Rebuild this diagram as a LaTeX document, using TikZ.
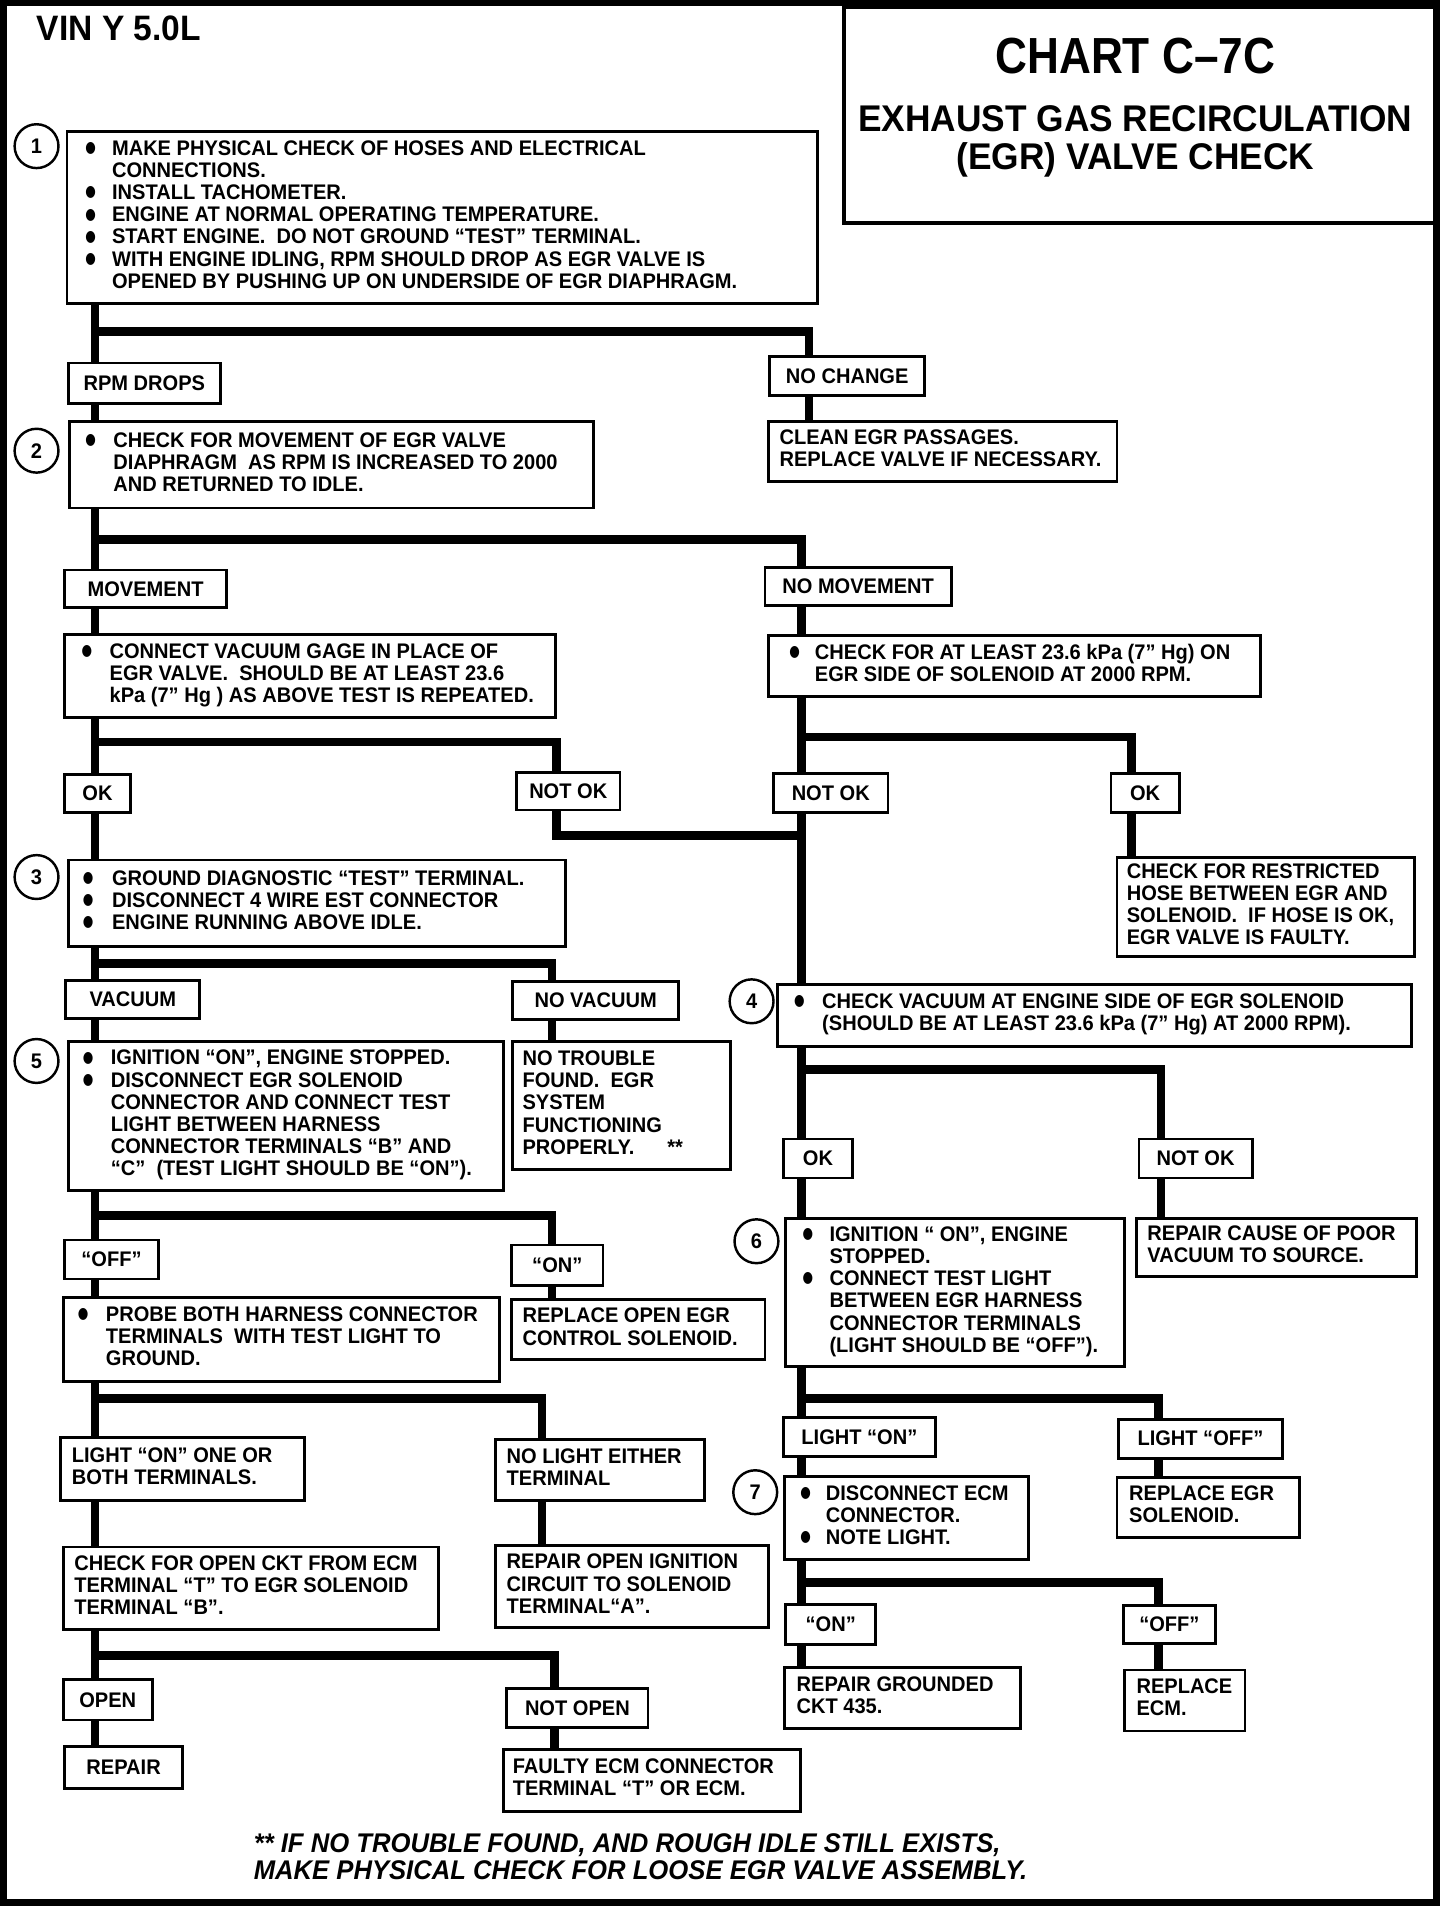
\documentclass[tikz,border=0pt]{standalone}
\usepackage{fontspec}
\usepackage{graphicx}
\setmainfont{Liberation Sans}[FakeStretch=0.95]
\newfontfamily\titlef{Liberation Sans}[FakeStretch=0.87]
\newfontfamily\dejavu{DejaVu Sans}
\usetikzlibrary{fit}
\newlength\upx \setlength\upx{0.6pt}
\newcommand\bodyfont{\fontsize{10.4}{10.9}\selectfont\bfseries}
\newcommand\bt{\raisebox{1.4pt}{\scalebox{0.85}[1.1]{\dejavu\fontsize{7}{7}\selectfont ●}}}
\newcommand\Bul[3]{\hspace*{#1\upx}\begin{tabular}{@{}p{#2\upx}@{}l@{}}#3\end{tabular}}
\newcommand\Tx[2]{\hspace*{#1\upx}\begin{tabular}{@{}l@{}}#2\end{tabular}}
\newcommand\Bx[6]{\pgfmathsetmacro\bxw{(#4-#2)*0.6}\pgfmathsetmacro\bxh{(#5-#3)*0.6}%
  \node[rbox, anchor=north west, minimum width=\bxw pt, minimum height=\bxh pt] (#1) at (#2,#3) {\makebox[\bxw pt][l]{#6}};}
\newcommand\Lb[6]{\Bx{#1}{#2}{#3}{#4}{#5}{\hfill#6\hfill}}
\begin{document}
\begin{tikzpicture}[x=0.6pt,y=-0.6pt,
  every node/.style={inner sep=0pt, font=\bodyfont},
  rbox/.style={draw, line width=1.4pt, fill=white, inner sep=0pt, outer sep=0pt},
  tbox/.style={draw, line width=1.8pt, inner sep=0pt},
  conn/.style={line width=4.2pt},
  numc/.style={circle, draw, line width=1.2pt, minimum size=21.6pt, inner sep=0pt}]
\useasboundingbox (0,0) rectangle (1195,1568);
\draw[line width=3.3pt] (2.7,2) rectangle (1179,1562);
\node[tbox, fit={(693,6)(1179,183)}] (title) {};
\node[anchor=base, font=\titlef\fontsize{25}{25}\selectfont\bfseries] (t1) at (932,60) {CHART C–7C};
\node[anchor=base, font=\fontsize{18.3}{18.3}\selectfont\bfseries] (t2) at (932,108) {EXHAUST GAS RECIRCULATION};
\node[anchor=base, font=\fontsize{18.3}{18.3}\selectfont\bfseries] (t3) at (932,139) {(EGR) VALVE CHECK};
\node[anchor=base west, font=\fontsize{17.4}{17.4}\selectfont\bfseries] (vin) at (30,33) {VIN Y 5.0L};

% boxes
\Bx{b1}{55}{108}{671}{249}{\Bul{15}{22}{%
\bt & MAKE PHYSICAL CHECK OF HOSES AND ELECTRICAL\\
 & CONNECTIONS.\\
\bt & INSTALL TACHOMETER.\\
\bt & ENGINE AT NORMAL OPERATING TEMPERATURE.\\
\bt & START ENGINE.~ DO NOT GROUND “TEST” TERMINAL.\\
\bt & WITH ENGINE IDLING, RPM SHOULD DROP AS EGR VALVE IS\\
 & OPENED BY PUSHING UP ON UNDERSIDE OF EGR DIAPHRAGM.}}
\Lb{rpm}{56}{298}{181}{331}{RPM DROPS}
\Lb{nochg}{632}{293}{759}{325}{NO CHANGE}
\Bx{clean}{631}{346}{917}{395}{\Tx{9}{CLEAN EGR PASSAGES.\\ REPLACE VALVE IF NECESSARY.}}
\Bx{b2}{57}{346}{487}{417}{\Bul{13}{23}{\bt & CHECK FOR MOVEMENT OF EGR VALVE\\ & DIAPHRAGM~ AS RPM IS INCREASED TO 2000\\ & AND RETURNED TO IDLE.}}
\Lb{mov}{53}{468}{186}{499}{MOVEMENT}
\Lb{nomov}{628}{466}{781}{497}{NO MOVEMENT}
\Bx{cvac}{53}{521}{456}{589}{\Bul{14}{23}{\bt & CONNECT VACUUM GAGE IN PLACE OF\\ & EGR VALVE.~ SHOULD BE AT LEAST 23.6\\ & kPa (7” Hg ) AS ABOVE TEST IS REPEATED.}}
\Bx{chk}{631}{522}{1035}{572}{\Bul{17}{21}{\bt & CHECK FOR AT LEAST 23.6 kPa (7” Hg) ON\\ & EGR SIDE OF SOLENOID AT 2000 RPM.}}
\Lb{okL}{53}{636}{107}{667}{OK}
\Lb{notokL}{424}{634}{509}{665}{NOT OK}
\Lb{notokR}{635}{635}{729}{667}{NOT OK}
\Lb{okR}{912}{635}{968}{667}{OK}
\Bx{restr}{917}{704}{1161}{785}{\Tx{8}{CHECK FOR RESTRICTED\\ HOSE BETWEEN EGR AND\\ SOLENOID.~ IF HOSE IS OK,\\ EGR VALVE IS FAULTY.}}
\Bx{b3}{56}{706}{464}{777}{\Bul{12}{24}{\bt & GROUND DIAGNOSTIC “TEST” TERMINAL.\\ \bt & DISCONNECT 4 WIRE EST CONNECTOR\\ \bt & ENGINE RUNNING ABOVE IDLE.}}
\Lb{vac}{54}{805}{164}{836}{VACUUM}
\Lb{novac}{421}{806}{557}{837}{NO VACUUM}
\Bx{b4}{638}{808}{1159}{859}{\Bul{14}{23}{\bt & CHECK VACUUM AT ENGINE SIDE OF EGR SOLENOID\\ & (SHOULD BE AT LEAST 23.6 kPa (7” Hg) AT 2000 RPM).}}
\Bx{b5}{56}{855}{413}{977}{\Bul{12}{23}{\bt & IGNITION “ON”, ENGINE STOPPED.\\ \bt & DISCONNECT EGR SOLENOID\\ & CONNECTOR AND CONNECT TEST\\ & LIGHT BETWEEN HARNESS\\ & CONNECTOR TERMINALS “B” AND\\ & “C”~ (TEST LIGHT SHOULD BE “ON”).}}
\Bx{notr}{421}{855}{600}{960}{\Tx{8}{NO TROUBLE\\ FOUND.~ EGR\\ SYSTEM\\ FUNCTIONING\\ PROPERLY.\hspace{27\upx}**}}
\Lb{off1}{53}{1018}{130}{1050}{“OFF”}
\Lb{on1}{420}{1022}{495}{1055}{“ON”}
\Bx{probe}{52}{1065}{410}{1134}{\Bul{12}{23}{\bt & PROBE BOTH HARNESS CONNECTOR\\ & TERMINALS~ WITH TEST LIGHT TO\\ & GROUND.}}
\Bx{repopen}{420}{1067}{628}{1116}{\Tx{9}{REPLACE OPEN EGR\\ CONTROL SOLENOID.}}
\Bx{lightone}{50}{1180}{250}{1232}{\Tx{9}{LIGHT “ON” ONE OR\\ BOTH TERMINALS.}}
\Bx{nolight}{407}{1182}{578}{1232}{\Tx{9}{NO LIGHT EITHER\\ TERMINAL}}
\Bx{chkopen}{52}{1270}{360}{1338}{\Tx{9}{CHECK FOR OPEN CKT FROM ECM\\ TERMINAL “T” TO EGR SOLENOID\\ TERMINAL “B”.}}
\Bx{repign}{407}{1269}{631}{1336}{\Tx{9}{REPAIR OPEN IGNITION\\ CIRCUIT TO SOLENOID\\ TERMINAL“A”.}}
\Lb{open}{52}{1379}{125}{1412}{OPEN}
\Lb{repair}{53}{1434}{150}{1468}{REPAIR}
\Lb{notopen}{416}{1386}{532}{1418}{NOT OPEN}
\Bx{faulty}{413}{1436}{657}{1487}{\Tx{8}{FAULTY ECM CONNECTOR\\ TERMINAL “T” OR ECM.}}
\Lb{okL2}{643}{935}{700}{967}{OK}
\Lb{notokR2}{935}{935}{1028}{967}{NOT OK}
\Bx{repcause}{933}{1000}{1163}{1048}{\Tx{9}{REPAIR CAUSE OF POOR\\ VACUUM TO SOURCE.}}
\Bx{b6}{645}{1000}{923}{1122}{\Bul{14}{22}{\bt & IGNITION “ ON”, ENGINE\\ & STOPPED.\\ \bt & CONNECT TEST LIGHT\\ & BETWEEN EGR HARNESS\\ & CONNECTOR TERMINALS\\ & (LIGHT SHOULD BE “OFF”).}}
\Lb{lon}{643}{1164}{768}{1196}{LIGHT “ON”}
\Lb{loff}{918}{1165}{1053}{1197}{LIGHT “OFF”}
\Bx{b7}{644}{1212}{844}{1280}{\Bul{13}{21}{\bt & DISCONNECT ECM\\ & CONNECTOR.\\ \bt & NOTE LIGHT.}}
\Bx{repsol}{917}{1213}{1067}{1262}{\Tx{10}{REPLACE EGR\\ SOLENOID.}}
\Lb{on2}{645}{1317}{719}{1350}{“ON”}
\Lb{off2}{922}{1318}{998}{1349}{“OFF”}
\Bx{repgnd}{644}{1369}{838}{1419}{\Tx{10}{REPAIR GROUNDED\\ CKT 435.}}
\Bx{repecm}{923}{1371}{1022}{1421}{\Tx{10}{REPLACE\\ ECM.}}

% step numbers
\node[numc] (c1) at (30,120) {1};
\node[numc] (c2) at (30,370) {2};
\node[numc] (c3) at (30,720) {3};
\node[numc] (c5) at (30,871) {5};
\node[numc] (c4) at (617,822) {4};
\node[numc] (c6) at (621,1019) {6};
\node[numc] (c7) at (620,1225) {7};

% footnote
\node[anchor=base west, font=\fontsize{13.3}{13.3}\selectfont\bfseries\itshape] (fn1) at (208,1521) {** IF NO TROUBLE FOUND, AND ROUGH IDLE STILL EXISTS,};
\node[anchor=base west, font=\fontsize{13.3}{13.3}\selectfont\bfseries\itshape] (fn2) at (208,1543) {MAKE PHYSICAL CHECK FOR LOOSE EGR VALVE ASSEMBLY.};

% line x positions and junctions
\coordinate (xL) at (78,0);
\coordinate (xR) at (658,0);
\coordinate (xNC) at (664,0);
\coordinate (xNL) at (457,0);
\coordinate (xOK) at (929,0);
\coordinate (xNV) at (453,0);
\coordinate (xNLi) at (445,0);
\coordinate (xNO) at (455,0);
\coordinate (xR2) at (953,0);
\coordinate (xR3) at (951,0);
\coordinate (j1) at (78,272);
\coordinate (j2) at (78,443);
\coordinate (j3) at (78,609);
\coordinate (j4) at (658,686);
\coordinate (j5) at (658,605);
\coordinate (j6) at (78,791);
\coordinate (j7) at (78,998);
\coordinate (j8) at (78,1148);
\coordinate (j9) at (78,1359);
\coordinate (j10) at (658,878);
\coordinate (j11) at (658,1148);
\coordinate (j12) at (658,1299);

% connectors
\draw[conn] (b1.south -| xL) -- (rpm.north -| xL);
\draw[conn] (j1) -| (nochg.north -| xNC);
\draw[conn] (nochg.south -| xNC) -- (clean.north -| xNC);
\draw[conn] (rpm.south -| xL) -- (b2.north -| xL);
\draw[conn] (b2.south -| xL) -- (mov.north -| xL);
\draw[conn] (j2) -| (nomov.north -| xR);
\draw[conn] (nomov.south -| xR) -- (chk.north -| xR);
\draw[conn] (mov.south -| xL) -- (cvac.north -| xL);
\draw[conn] (cvac.south -| xL) -- (okL.north -| xL);
\draw[conn] (j3) -| (notokL.north -| xNL);
\draw[conn] (notokL.south -| xNL) |- (j4);
\draw[conn] (chk.south -| xR) -- (notokR.north -| xR);
\draw[conn] (j5) -| (okR.north -| xOK);
\draw[conn] (okR.south -| xOK) -- (restr.north -| xOK);
\draw[conn] (notokR.south -| xR) -- (b4.north -| xR);
\draw[conn] (okL.south -| xL) -- (b3.north -| xL);
\draw[conn] (b3.south -| xL) -- (vac.north -| xL);
\draw[conn] (j6) -| (novac.north -| xNV);
\draw[conn] (novac.south -| xNV) -- (notr.north -| xNV);
\draw[conn] (vac.south -| xL) -- (b5.north -| xL);
\draw[conn] (b5.south -| xL) -- (off1.north -| xL);
\draw[conn] (j7) -| (on1.north -| xNV);
\draw[conn] (on1.south -| xNV) -- (repopen.north -| xNV);
\draw[conn] (off1.south -| xL) -- (probe.north -| xL);
\draw[conn] (probe.south -| xL) -- (lightone.north -| xL);
\draw[conn] (j8) -| (nolight.north -| xNLi);
\draw[conn] (nolight.south -| xNLi) -- (repign.north -| xNLi);
\draw[conn] (lightone.south -| xL) -- (chkopen.north -| xL);
\draw[conn] (chkopen.south -| xL) -- (open.north -| xL);
\draw[conn] (j9) -| (notopen.north -| xNO);
\draw[conn] (notopen.south -| xNO) -- (faulty.north -| xNO);
\draw[conn] (open.south -| xL) -- (repair.north -| xL);
\draw[conn] (b4.south -| xR) -- (okL2.north -| xR);
\draw[conn] (j10) -| (notokR2.north -| xR2);
\draw[conn] (notokR2.south -| xR2) -- (repcause.north -| xR2);
\draw[conn] (okL2.south -| xR) -- (b6.north -| xR);
\draw[conn] (b6.south -| xR) -- (lon.north -| xR);
\draw[conn] (j11) -| (loff.north -| xR3);
\draw[conn] (loff.south -| xR3) -- (repsol.north -| xR3);
\draw[conn] (lon.south -| xR) -- (b7.north -| xR);
\draw[conn] (b7.south -| xR) -- (on2.north -| xR);
\draw[conn] (j12) -| (off2.north -| xR3);
\draw[conn] (off2.south -| xR3) -- (repecm.north -| xR3);
\draw[conn] (on2.south -| xR) -- (repgnd.north -| xR);
\end{tikzpicture}
\end{document}
